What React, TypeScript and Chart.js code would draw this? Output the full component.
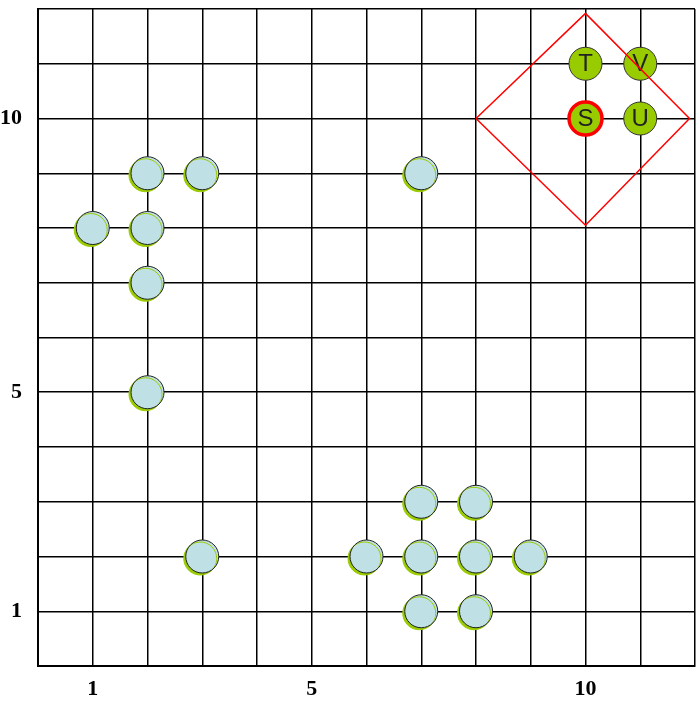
import React, { useEffect, useRef } from "react";
import { Chart, registerables } from "chart.js";

Chart.register(...registerables);

const xTickLabels = [1, 5, 10];
const yTickLabels = [1, 5, 10];

const blueX = [1, 2, 2, 3, 2, 2, 7, 3, 6, 7, 8, 9, 7, 8, 7, 8];
const blueY = [8, 8, 9, 9, 7, 5, 9, 2, 2, 2, 2, 2, 3, 3, 1, 1];

const greenLabels = ["T", "V", "S", "U"];
const greenX = [10, 11, 10, 11];
const greenY = [11, 11, 10, 10];

const diamondX = [8, 10, 11.9, 10, 8];
const diamondY = [10, 11.92, 10, 8.05, 10];

const BLUE = "#bfe1e6";
const GREEN = "#99cc00";

export default function App() {
  const ref = useRef<HTMLCanvasElement>(null);

  useEffect(() => {
    if (!ref.current) return;

    const shadowPlugin = {
      id: "shadowPlugin",
      beforeDatasetDraw(chart: any, args: any) {
        if (args.index === 2) {
          const ctx = chart.ctx;
          ctx.save();
          ctx.shadowColor = GREEN;
          ctx.shadowOffsetX = -2;
          ctx.shadowOffsetY = 2;
          ctx.shadowBlur = 0;
        }
      },
      afterDatasetDraw(chart: any, args: any) {
        if (args.index === 2) {
          chart.ctx.restore();
        }
        if (args.index === 1) {
          const ctx = chart.ctx;
          const meta = chart.getDatasetMeta(1);
          ctx.save();
          ctx.fillStyle = "#222";
          ctx.font = "24px 'Liberation Sans', Arial, sans-serif";
          ctx.textAlign = "center";
          ctx.textBaseline = "middle";
          meta.data.forEach((pt: any, i: number) => {
            ctx.fillText(greenLabels[i], pt.x, pt.y + 1);
          });
          ctx.restore();
        }
      },
    };

    const tickFont = { family: "'Liberation Serif', 'Times New Roman', serif", size: 22, weight: "bold" as const };

    const chart = new Chart(ref.current, {
      type: "scatter",
      data: {
        datasets: [
          {
            label: "diamond",
            data: diamondX.map((x, i) => ({ x, y: diamondY[i] })),
            showLine: true,
            borderColor: "#ff0000",
            borderWidth: 1.5,
            pointRadius: 0,
            fill: false,
          },
          {
            label: "green",
            data: greenX.map((x, i) => ({ x, y: greenY[i] })),
            pointRadius: 16.5,
            backgroundColor: GREEN,
            borderColor: greenLabels.map((l) => (l === "S" ? "#ff0000" : "#333")),
            borderWidth: greenLabels.map((l) => (l === "S" ? 3.5 : 1)),
          },
          {
            label: "blue",
            data: blueX.map((x, i) => ({ x, y: blueY[i] })),
            pointRadius: 16.5,
            backgroundColor: BLUE,
            borderColor: "#222",
            borderWidth: 1,
          },
        ],
      },
      options: {
        responsive: false,
        animation: false,
        devicePixelRatio: 1,
        layout: { autoPadding: false, padding: { left: 0, top: 9, right: 1, bottom: 0 } },
        plugins: { legend: { display: false }, tooltip: { enabled: false } },
        scales: {
          x: {
            type: "linear",
            min: 0,
            max: 12,
            afterFit(scale: any) {
              scale.height = 37;
              scale.paddingLeft = 0;
              scale.paddingRight = 0;
              scale.paddingTop = 0;
              scale.paddingBottom = 0;
            },
            grid: { color: "#000", lineWidth: 1.5, drawTicks: false },
            border: { display: true, color: "#000", width: 2 },
            ticks: {
              stepSize: 1,
              autoSkip: false,
              maxRotation: 0,
              padding: 10,
              color: "#000",
              font: tickFont,
              callback: (v: any) => (xTickLabels.includes(Number(v)) ? String(v) : ""),
            },
          },
          y: {
            type: "linear",
            min: 0,
            max: 12,
            afterFit(scale: any) {
              scale.width = 38;
              scale.paddingLeft = 0;
              scale.paddingRight = 0;
              scale.paddingTop = 0;
              scale.paddingBottom = 0;
            },
            grid: { color: "#000", lineWidth: 1.5, drawTicks: false },
            border: { display: true, color: "#000", width: 2 },
            ticks: {
              stepSize: 1,
              autoSkip: false,
              padding: 16,
              color: "#000",
              font: tickFont,
              callback: (v: any) => (yTickLabels.includes(Number(v)) ? String(v) : ""),
            },
          },
        },
      },
      plugins: [shadowPlugin],
    });

    return () => chart.destroy();
  }, []);

  return (
    <div style={{ position: "fixed", left: 0, top: 0, width: 696, height: 703, background: "#fff" }}>
      <canvas ref={ref} width={696} height={703} />
    </div>
  );
}
